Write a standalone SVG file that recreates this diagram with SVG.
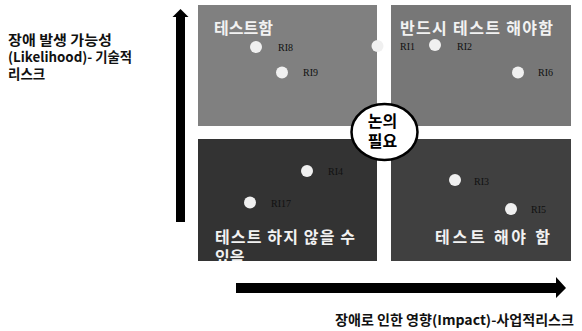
<svg xmlns="http://www.w3.org/2000/svg" width="582" height="331" viewBox="0 0 582 331">
<style>
.ax{font-family:"Noto Sans CJK KR","Noto Sans",sans-serif;font-size:13.5px;fill:#111;font-weight:bold}
.ttl{font-family:"Noto Sans CJK KR","Noto Sans",sans-serif;font-size:16px;font-weight:bold;fill:#f2f2f2}
.lbl{font-family:"Liberation Serif",serif;font-size:10px;fill:#111}
.dot{fill:#f0f0f0}
.mid{font-family:"Noto Sans CJK KR","Noto Sans",sans-serif;font-size:16px;font-weight:bold;fill:#000;text-anchor:middle}
</style>
<defs>
<clipPath id="clipBL"><rect x="198" y="139" width="179" height="122"/></clipPath>
</defs>
<rect width="582" height="331" fill="#fff"/>
<g id="axis-y-label">
<text class="ax" x="8" y="45" textLength="104" lengthAdjust="spacingAndGlyphs">장애 발생 가능성</text>
<text class="ax" x="8" y="62" textLength="124" lengthAdjust="spacingAndGlyphs">(Likelihood)- 기술적</text>
<text class="ax" x="8" y="79">리스크</text>
</g>
<g id="q-top-left">
<rect x="198" y="5" width="179" height="121" fill="#808080"/>
<text class="ttl" x="214" y="34">테스트함</text>
</g>
<g id="q-top-right">
<rect x="391" y="5" width="180" height="121" fill="#777777"/>
<text class="ttl" x="400" y="34" textLength="153" lengthAdjust="spacing">반드시 테스트 해야함</text>
</g>
<g id="q-bottom-left">
<rect x="198" y="139" width="179" height="122" fill="#333333"/>
<g clip-path="url(#clipBL)">
<text class="ttl" x="215" y="243" textLength="140" lengthAdjust="spacing">테스트 하지 않을 수</text>
<text class="ttl" x="215" y="263">있음</text>
</g>
</g>
<g id="q-bottom-right">
<rect x="391" y="139" width="180" height="122" fill="#404040"/>
<text class="ttl" x="435" y="243" textLength="115" lengthAdjust="spacing">테스트 해야 함</text>
</g>
<g id="points">
<g id="RI8"><circle class="dot" cx="256" cy="47" r="6"/><text class="lbl" x="278" y="51">RI8</text></g>
<g id="RI9"><circle class="dot" cx="282" cy="72.5" r="6"/><text class="lbl" x="303" y="76">RI9</text></g>
<g id="RI1"><circle class="dot" cx="377.5" cy="46" r="6"/><text class="lbl" x="400" y="50">RI1</text></g>
<g id="RI2"><circle class="dot" cx="435" cy="45" r="6"/><text class="lbl" x="457" y="50">RI2</text></g>
<g id="RI6"><circle class="dot" cx="518" cy="72.5" r="6"/><text class="lbl" x="538" y="76">RI6</text></g>
<g id="RI4"><circle class="dot" cx="307" cy="171" r="6"/><text class="lbl" x="328" y="175">RI4</text></g>
<g id="RI17"><circle class="dot" cx="250" cy="202.5" r="6"/><text class="lbl" x="271" y="207">RI17</text></g>
<g id="RI3"><circle class="dot" cx="455" cy="180" r="6"/><text class="lbl" x="474" y="185">RI3</text></g>
<g id="RI5"><circle class="dot" cx="511" cy="209" r="6"/><text class="lbl" x="531" y="213">RI5</text></g>
</g>
<g id="discuss">
<ellipse cx="384.5" cy="132" rx="33" ry="28" fill="#fff" stroke="#000" stroke-width="2.5"/>
<text class="mid" x="382.5" y="127">논의</text>
<text class="mid" x="382.5" y="147">필요</text>
</g>
<g id="connectors">
<polygon points="176,222 185,222 185,17 188.5,17 180.5,9 172.5,17 176,17" fill="#000"/>
<polygon points="236,283 556,283 556,277 566,288 556,298 556,293 236,293" fill="#000"/>
</g>
<g id="axis-x-label">
<text class="ax" x="335" y="325" textLength="239" lengthAdjust="spacingAndGlyphs">장애로 인한 영향(Impact)-사업적리스크</text>
</g>
</svg>
